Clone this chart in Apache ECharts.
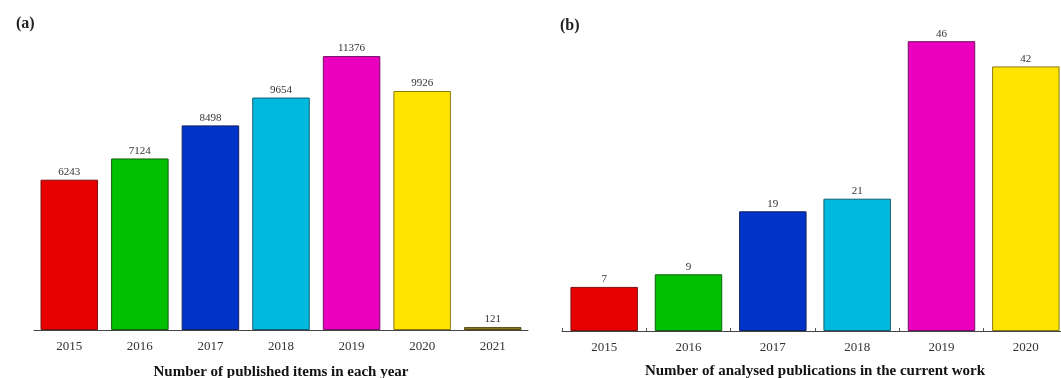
<!DOCTYPE html>
<html>
<head>
<meta charset="utf-8">
<script src="https://cdn.jsdelivr.net/npm/echarts@6/dist/echarts.min.js"></script>
<style>
  html, body { margin: 0; padding: 0; background: #fff; }
  #chart { width: 1061px; height: 378px; }
</style>
</head>
<body>
<div id="chart"></div>
<script>
// panel (a): published items per year
const yearsA = ['2015', '2016', '2017', '2018', '2019', '2020', '2021']
const itemsA = [6243, 7124, 8498, 9654, 11376, 9926, 121]

// panel (b): analysed publications
const yearsB = ['2015', '2016', '2017', '2018', '2019', '2020']
const itemsB = [7, 9, 19, 21, 46, 42]

const fills = ['#e80000', '#00c000', '#0033c8', '#00b9e0', '#ec00c0', '#ffe400', '#8c7a1c']
const edges = ['#7a1010', '#106010', '#102060', '#106070', '#701060', '#8a7a10', '#5a4a10']

const font = 'Liberation Serif'

function bars(vals) {
  return vals.map((v, i) => ({
    value: v,
    itemStyle: { color: fills[i], borderColor: edges[i], borderWidth: 1 },
  }))
}

const chart = echarts.init(document.getElementById('chart'))

const baseX = {
  type: 'category',
  position: 'bottom',
  axisLine: { lineStyle: { color: '#444', width: 1 } },
  axisTick: { alignWithLabel: true, length: 4, lineStyle: { color: '#444' } },
  axisLabel: { color: '#333', fontFamily: font, fontSize: 13, margin: 10 },
  nameLocation: 'middle',
  nameGap: 35,
  nameTextStyle: { color: '#111', fontFamily: font, fontSize: 15, fontWeight: 'bold' },
}

const label = {
  show: true,
  position: 'top',
  distance: 2,
  color: '#333',
  fontFamily: font,
  fontSize: 11,
}

chart.setOption({
  backgroundColor: '#fff',
  animation: false,
  title: [
    { text: '(a)', left: 11, top: 11, textStyle: { fontFamily: font, fontSize: 16, fontWeight: 'bold', color: '#222' } },
    { text: '(b)', left: 555, top: 13, textStyle: { fontFamily: font, fontSize: 16, fontWeight: 'bold', color: '#222' } },
  ],
  grid: [
    { left: 34, width: 494, top: 17, height: 313, outerBoundsMode: 'none' },
    { left: 562, width: 506, top: 16, height: 315, outerBoundsMode: 'none' },
  ],
  xAxis: [
    { ...baseX, gridIndex: 0, data: yearsA, name: 'Number of published items in each year' },
    { ...baseX, gridIndex: 1, data: yearsB, name: 'Number of analysed publications in the current work', nameGap: 33 },
    {
      type: 'category',
      gridIndex: 1,
      position: 'bottom',
      data: yearsB,
      axisLine: { show: false },
      axisLabel: { show: false },
      axisTick: { show: true, inside: true, length: 3, lineStyle: { color: '#555' } },
    },
  ],
  yAxis: [
    { type: 'value', gridIndex: 0, min: 0, max: 13000, show: false },
    { type: 'value', gridIndex: 1, min: 0, max: 50, show: false },
  ],
  series: [
    {
      type: 'bar',
      xAxisIndex: 0,
      yAxisIndex: 0,
      barCategoryGap: '18.5%',
      data: bars(itemsA),
      label,
    },
    {
      type: 'bar',
      xAxisIndex: 1,
      yAxisIndex: 1,
      barCategoryGap: '20%',
      data: bars(itemsB),
      label,
    },
  ],
})
</script>
</body>
</html>
